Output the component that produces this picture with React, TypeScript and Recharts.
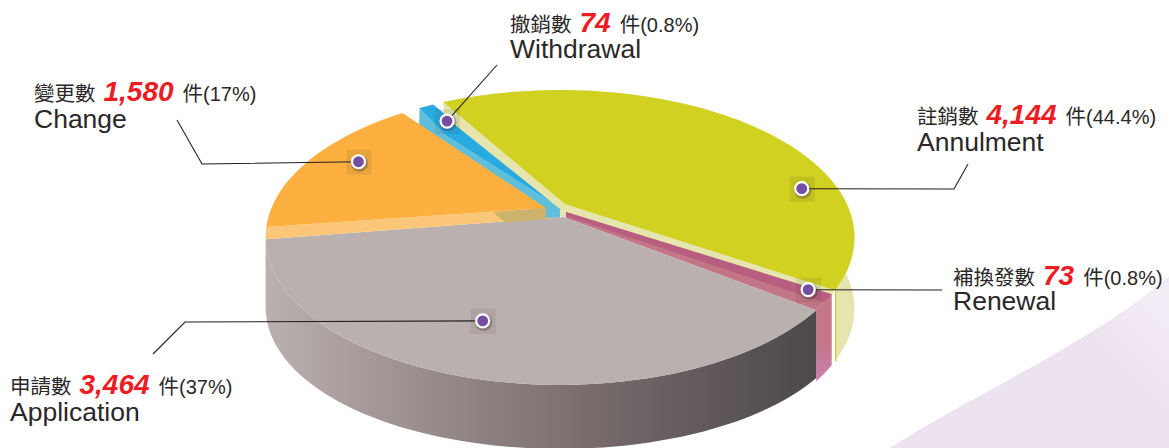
import { PieChart, Pie } from "recharts";

const NAMES_ZH = ["撤銷數", "註銷數", "補換發數", "申請數", "變更數"];
const NAMES_EN = ["Withdrawal", "Annulment", "Renewal", "Application", "Change"];
const VALUES = [74, 4144, 73, 3464, 1580];
const PERCENTS = ["0.8%", "44.4%", "0.8%", "37%", "17%"];

const data = VALUES.map((value, id) => ({ id, name: NAMES_EN[id], value }));

const CX = 560;
const CY = 215;
const RADIUS = 291;
const TILT = 144;
const PERSP = -0.1525;

// the original art is not drawn to scale, so each slice gets its angles nudged a bit
const NUDGE = [
  [0.3, -4.9],
  [-2.4, -8.9],
  [-7.3, -9.5],
  [-9.5, -4.3],
  [0.4, -4.1],
];

const MARKERS = [
  { f: 0.657, r: 0.843 },
  { f: 0.717, r: 0.875 },
  { f: 0.125, r: 0.925 },
  { f: 0.546, r: 0.703 },
  { f: 0.573, r: 0.832 },
];

// leader line bends and label anchors
const LEADERS = [
  { line: [[497, 65]], x: 510, y: 32, y2: 58 },
  { line: [[954, 189], [968, 164]], x: 917, y: 124, y2: 151 },
  { line: [[942, 290]], x: 953, y: 285, y2: 310 },
  { line: [[185, 322], [153, 354]], x: 10, y: 394, y2: 421 },
  { line: [[202, 164], [177, 120]], x: 34, y: 101, y2: 128 },
];

const CJK = "'Noto Sans CJK TC', sans-serif";
const LATIN = "'Liberation Sans', Arial, sans-serif";

// angle from 12 o'clock, clockwise, to a point on the tilted disc
const project = (deg: number, r = 1) => {
  const t = (deg * Math.PI) / 180;
  const u = r * Math.sin(t);
  const v = -r * Math.cos(t);
  const w = 1 + PERSP * v;
  return [CX + (RADIUS * u) / w, CY + (TILT * v) / w];
};

const arc = (a: number, b: number) => {
  const pts: number[][] = [];
  const n = Math.max(2, Math.ceil(Math.abs(b - a) / 2));
  for (let i = 0; i <= n; i++) pts.push(project(a + ((b - a) * i) / n));
  return pts;
};

const toPath = (pts: number[][]) => "M" + pts.map((p) => p[0].toFixed(1) + " " + p[1].toFixed(1)).join("L") + "Z";
const wedge = (a: number, b: number, ax: number, ay: number) => toPath([[ax, ay], ...arc(a, b)]);
const wall = (a: number, b: number, depth: (x: number) => number) => {
  const top = arc(a, b);
  const low = top.map((p) => [p[0], p[1] + depth(p[0])]).reverse();
  return toPath([...top, ...low]);
};
const flat = (d: number) => () => d;
// the front wall looks a little shorter in the middle than at its two ends
const frontDepth = (x: number) => 64 + 5 * ((x - CX) / RADIUS) ** 2;

const angles = (props: any) => {
  const id = props.id ?? props.payload?.id;
  return {
    id,
    a: 90 - props.startAngle + NUDGE[id][0],
    b: 90 - props.endAngle + NUDGE[id][1],
  };
};

function SliceShape(props: any) {
  const { id, a, b } = angles(props);
  if (id === 0) {
    return (
      <g>
        <path d={toPath([project(a), [445, 135], [555, 205], [560, 208], [560, 218], [546, 218], [419, 135]])} fill="#5FBFDB" />
        <path d={toPath([project(a), project(b), [560, 209], [555, 205], [445, 135]])} fill="#29ABE2" />
      </g>
    );
  }
  if (id === 1) {
    const end = project(b);
    return (
      <g>
        <path d={wall(78, b, flat(71))} fill="#E6E5AE" />
        <path d={toPath([[444, 116], ...arc(a, b + 6), [560, 216], [560, 209]])} fill="#E6E5AE" />
        <path d={wedge(a, b, 565, 204)} fill="#D1D122" />
        <path d={toPath([end, [end[0] + 1.2, end[1]], [end[0] + 1.2, end[1] + 71], [end[0], end[1] + 71]])} fill="#D1D122" />
      </g>
    );
  }
  if (id === 2) {
    return (
      <g>
        <path d={wall(a, b, flat(71))} fill="url(#renewalWall)" />
        <path d={toPath([[566, 212], ...arc(a, b), [566, 218]])} fill="#C27686" />
        <path d={toPath([[566, 212], ...arc(a, b - 3.1), [566, 216]])} fill="#B85E80" />
      </g>
    );
  }
  if (id === 3) {
    return (
      <g>
        <path d={wall(a, b, frontDepth)} fill="url(#applicationWall)" />
        <path d={wedge(a, b, 563, 217)} fill="#BBB0B0" />
      </g>
    );
  }
  const outer = project(a);
  const lower = project(a - 4.7);
  return (
    <g>
      <path d={toPath([outer, [546, 208], [546, 219], [563, 217], lower])} fill="#FCC679" />
      <path d={toPath([[493, 212], [546, 208], [546, 219], [505, 222.5]])} fill="#CDB26B" />
      <path d={wedge(a, b, 546, 208)} fill="#FDB040" />
    </g>
  );
}

function LabelShape(props: any) {
  const { id, a, b } = angles(props);
  const marker = MARKERS[id];
  const [mx, my] = project(a + (b - a) * marker.f, marker.r);
  const lead = LEADERS[id];
  const points = [[mx, my], ...lead.line].map((p) => p.join(",")).join(" ");
  return (
    <g>
      <polyline points={points} fill="none" stroke="#231F20" strokeWidth={1.1} />
      <rect x={mx - 12} y={my - 12} width={25} height={25} fill="#3A3020" opacity={0.1} />
      <circle cx={mx + 1} cy={my + 1.5} r={8.5} fill="#2A2030" opacity={0.3} />
      <circle cx={mx} cy={my} r={6.5} fill="#734EA3" stroke="#FFFFFF" strokeWidth={2.2} />
      <text x={lead.x} y={lead.y} fill="#2B2728" fontFamily={CJK} fontSize={20.5}>
        {NAMES_ZH[id]}
        <tspan dx={8} fill="#ED1C24" fontFamily={LATIN} fontSize={28} fontWeight="bold" fontStyle="italic">
          {VALUES[id].toLocaleString("en-US")}
        </tspan>
        <tspan dx={9}>件</tspan>
        <tspan fontFamily={LATIN} fontSize={20}>({PERCENTS[id]})</tspan>
      </text>
      <text x={lead.x} y={lead.y2} fill="#2B2728" fontFamily={LATIN} fontSize={26.5}>
        {NAMES_EN[id]}
      </text>
    </g>
  );
}

export default function App() {
  const pieProps = {
    data,
    dataKey: "value",
    cx: CX,
    cy: CY,
    outerRadius: RADIUS,
    startAngle: 123.3,
    endAngle: -236.7,
    minAngle: 6,
    stroke: "none",
    isAnimationActive: false,
    labelLine: false,
  };
  return (
    <div style={{ position: "absolute", left: 0, top: 0, width: 1169, height: 448, overflow: "hidden", background: "#fff" }}>
      <svg width={1169} height={448} style={{ position: "absolute", left: 0, top: 0 }}>
        <defs>
          <linearGradient id="backdrop" x1="1150" x2="1090" y1="290" y2="350" gradientUnits="userSpaceOnUse">
            <stop offset="0" stopColor="#F3ECF5" />
            <stop offset="1" stopColor="#EDE2F0" />
          </linearGradient>
        </defs>
        <path d="M890 448C965 398 1090 345 1169 276L1169 448Z" fill="url(#backdrop)" />
      </svg>
      <div style={{ position: "absolute", left: 0, top: 0 }}>
        <PieChart width={1169} height={448} margin={{ top: 0, right: 0, bottom: 0, left: 0 }}>
          <defs>
            <linearGradient id="applicationWall" x1="266" x2="818" y1="0" y2="0" gradientUnits="userSpaceOnUse">
              <stop offset="0" stopColor="#BBB0B0" />
              <stop offset="0.3" stopColor="#988B8C" />
              <stop offset="0.6" stopColor="#766A6B" />
              <stop offset="1" stopColor="#4C484B" />
            </linearGradient>
            <linearGradient id="renewalWall" x1="0" x2="0" y1="340" y2="375" gradientUnits="userSpaceOnUse">
              <stop offset="0" stopColor="#C27686" />
              <stop offset="1" stopColor="#C97FA8" />
            </linearGradient>
          </defs>
          <Pie {...pieProps} shape={SliceShape} inactiveShape={SliceShape} />
          <Pie {...pieProps} shape={LabelShape} inactiveShape={LabelShape} />
        </PieChart>
      </div>
    </div>
  );
}
